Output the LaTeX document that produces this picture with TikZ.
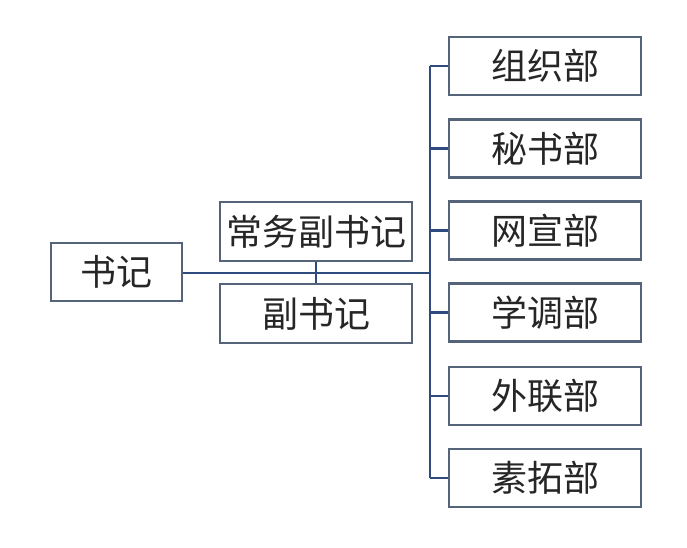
\documentclass[tikz,border=0pt]{standalone}
\usepackage{fontspec}
\setmainfont{Noto Sans CJK SC}
\begin{document}
\begin{tikzpicture}[x=1pt,y=-1pt,
  box/.style={draw=boxc, line width=2.2pt, fill=white, inner sep=0pt,
    minimum width=192pt, minimum height=58pt, font=\fontsize{36}{40}\selectfont, text=black!85},
  conn/.style={draw=linec, line width=2.3pt}]
\definecolor{boxc}{HTML}{56647A}
\definecolor{linec}{HTML}{2F4A7D}
\useasboundingbox (0,0) rectangle (687,547);
\node[box, minimum width=131pt] (sj) at (116.5,272) {书记};
\node[box, minimum height=59pt] (cw) at (316,231.5) {常务副书记};
\node[box, minimum height=59pt] (fs) at (316,313.5) {副书记};
\node[box] (d1) at (545,66) {组织部};
\node[box] (d2) at (545,148.5) {秘书部};
\node[box] (d3) at (545,230.5) {网宣部};
\node[box] (d4) at (545,312.5) {学调部};
\node[box] (d5) at (545,396) {外联部};
\node[box] (d6) at (545,478) {素拓部};
\coordinate (bt) at (430,66);
\coordinate (bb) at (430,478);
\coordinate (bm) at (430,273);
\draw[conn, line width=2.8pt] (sj.east |- bm) -- (bm);
\draw[conn] (bt) -- (bb);
\draw[conn] (cw.south) -- (fs.north);
\foreach \d in {d1,d2,d3,d4,d5,d6} \draw[conn] (bt |- \d.west) -- (\d.west);
\end{tikzpicture}
\end{document}
